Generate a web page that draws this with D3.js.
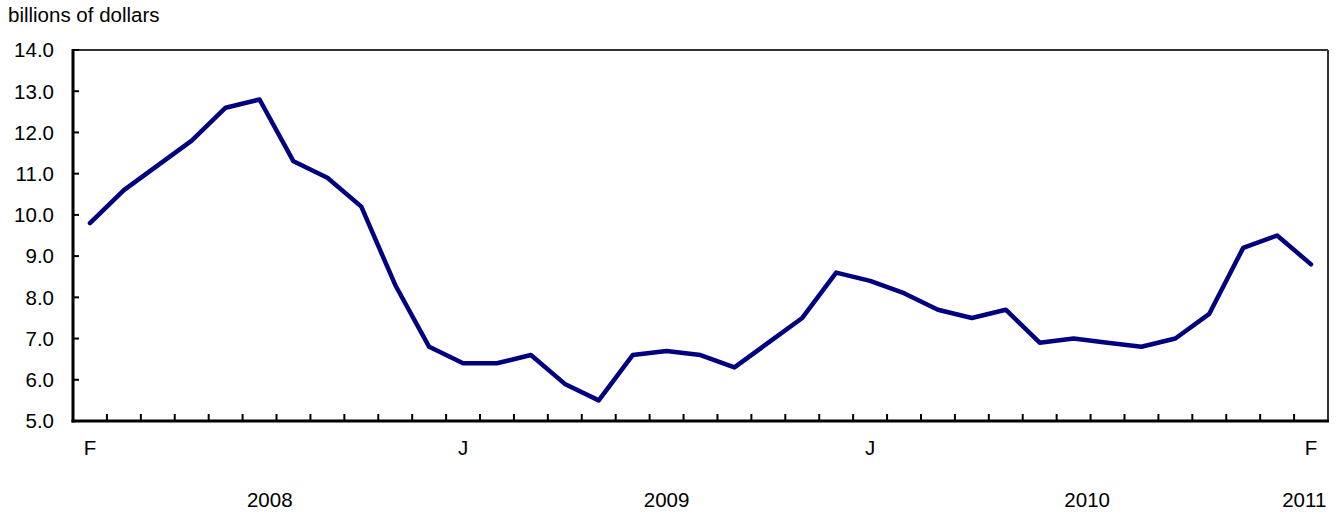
<!DOCTYPE html>
<html>
<head>
<meta charset="utf-8">
<script src="https://cdn.jsdelivr.net/npm/d3@7"></script>
<style>
  body { margin: 0; background: #fff; }
  text { font-family: "Liberation Sans", Arial, sans-serif; fill: #000; }
</style>
</head>
<body>
<div id="viz"></div>
<script>
// monthly values, Feb 2008 to Feb 2011 (billions of dollars)
var months = ["F","M","A","M","J","J","A","S","O","N","D",
              "J","F","M","A","M","J","J","A","S","O","N","D",
              "J","F","M","A","M","J","J","A","S","O","N","D",
              "J","F"];
var values = [9.8, 10.6, 11.2, 11.8, 12.6, 12.8, 11.3, 10.9, 10.2, 8.3, 6.8,
              6.4, 6.4, 6.6, 5.9, 5.5, 6.6, 6.7, 6.6, 6.3, 6.9, 7.5, 8.6,
              8.4, 8.1, 7.7, 7.5, 7.7, 6.9, 7.0, 6.9, 6.8, 7.0, 7.6, 9.2,
              9.5, 8.8];
// which month labels are shown
var monthLabelIdx = [0, 11, 23, 36];
// year labels and the month index they sit over
var years = ["2008", "2009", "2010", "2011"];
var yearPos = [5.3, 17.0, 29.4, 35.8];
var yTicks = [5, 6, 7, 8, 9, 10, 11, 12, 13, 14];

var W = 1344, H = 516;
var margin = { top: 50, right: 16, bottom: 95, left: 73 },
    width = W - margin.left - margin.right,
    height = H - margin.top - margin.bottom;
var fs = "20.5px";

var svg = d3.select("#viz")
    .append("svg")
    .attr("width", W)
    .attr("height", H)
    .append("g")
    .attr("transform", "translate(" + margin.left + "," + margin.top + ")");

var idx = d3.range(values.length);

var x = d3.scaleBand()
    .domain(idx)
    .range([0, width])
    .padding(0);
var bw = x.bandwidth();
function xc(i) { return x(i) + bw / 2; }
// fractional position (for year labels)
function xf(v) { return bw * v + bw / 2; }

var y = d3.scaleLinear()
    .domain([5, 14])
    .range([height, 0]);

// y axis label
svg.append("text")
    .attr("x", 8 - margin.left)
    .attr("y", 22 - margin.top)
    .style("font-size", fs)
    .text("billions of dollars");

// frame: top and right thin lines
svg.append("line")
    .attr("x1", 0).attr("x2", width)
    .attr("y1", 0).attr("y2", 0)
    .attr("stroke", "#333").attr("stroke-width", 2);
svg.append("line")
    .attr("x1", width).attr("x2", width)
    .attr("y1", 0).attr("y2", height)
    .attr("stroke", "#333").attr("stroke-width", 2);

// y ticks (inward) and labels
svg.selectAll(".ytick")
    .data(yTicks)
    .enter()
    .append("line")
    .attr("x1", 0).attr("x2", 6)
    .attr("y1", function (d) { return y(d); })
    .attr("y2", function (d) { return y(d); })
    .attr("stroke", "#000").attr("stroke-width", 2);

svg.selectAll(".ylab")
    .data(yTicks)
    .enter()
    .append("text")
    .attr("x", -19)
    .attr("y", function (d) { return y(d); })
    .attr("dy", "0.36em")
    .attr("text-anchor", "end")
    .style("font-size", fs)
    .text(function (d) { return d3.format(".1f")(d); });

// x ticks at month boundaries (upward)
svg.selectAll(".xtick")
    .data(idx.slice(1))
    .enter()
    .append("line")
    .attr("x1", function (d) { return x(d); })
    .attr("x2", function (d) { return x(d); })
    .attr("y1", height).attr("y2", height - 7)
    .attr("stroke", "#000").attr("stroke-width", 2);

// axes lines
svg.append("line")
    .attr("x1", 0).attr("x2", 0)
    .attr("y1", -1).attr("y2", height + 1.5)
    .attr("stroke", "#000").attr("stroke-width", 3);
svg.append("line")
    .attr("x1", -1.5).attr("x2", width + 1)
    .attr("y1", height).attr("y2", height)
    .attr("stroke", "#000").attr("stroke-width", 3);

// month letters
svg.selectAll(".mlab")
    .data(monthLabelIdx)
    .enter()
    .append("text")
    .attr("x", function (d) { return xc(d); })
    .attr("y", height + 34)
    .attr("text-anchor", "middle")
    .style("font-size", fs)
    .text(function (d) { return months[d]; });

// year labels
svg.selectAll(".yrlab")
    .data(years)
    .enter()
    .append("text")
    .attr("x", function (d, i) { return xf(yearPos[i]); })
    .attr("y", height + 86)
    .attr("text-anchor", "middle")
    .style("font-size", fs)
    .text(function (d) { return d; });

// the line
svg.append("path")
    .datum(idx)
    .attr("fill", "none")
    .attr("stroke", "#000080")
    .attr("stroke-width", 4.5)
    .attr("stroke-linejoin", "round")
    .attr("stroke-linecap", "round")
    .attr("d", d3.line()
        .x(function (d) { return xc(d); })
        .y(function (d) { return y(values[d]); }));
</script>
</body>
</html>
